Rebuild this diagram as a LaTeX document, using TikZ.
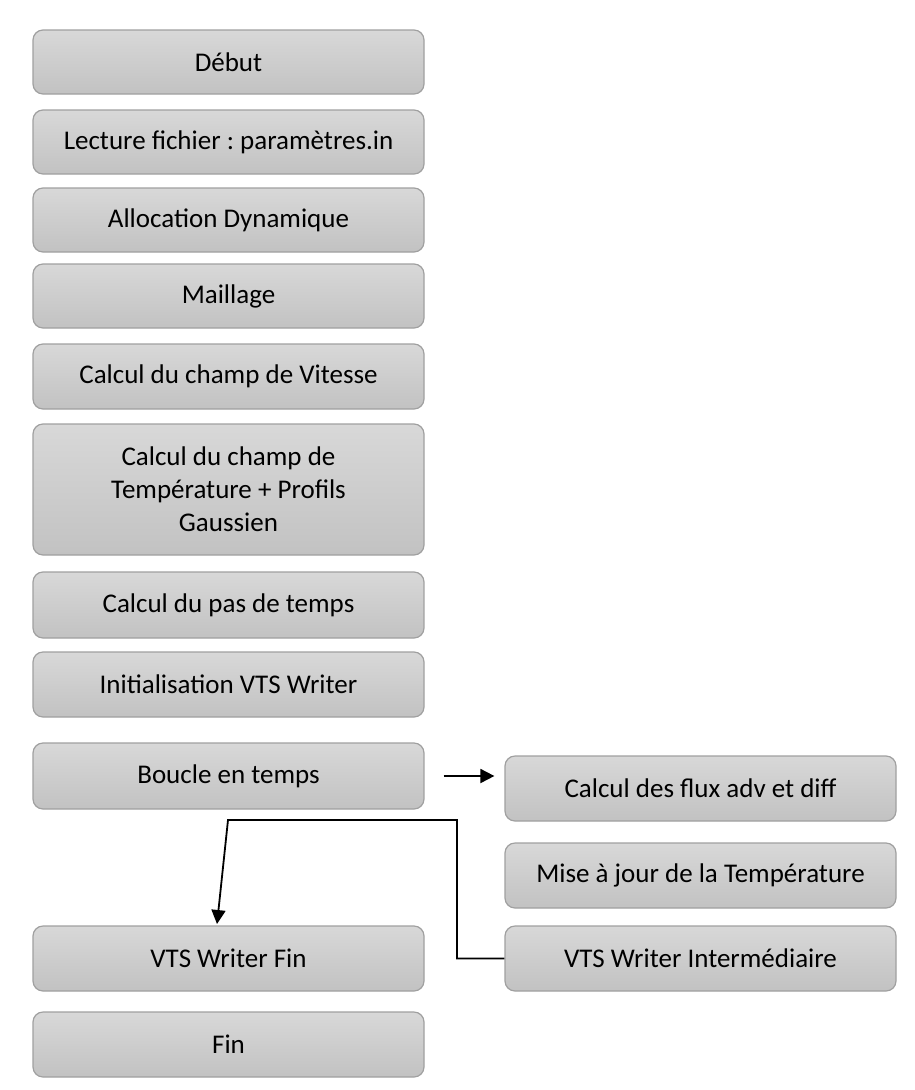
\documentclass[tikz,border=0pt]{standalone}
\usepackage{fontspec}
\setmainfont{Carlito}
\frenchspacing
\usetikzlibrary{arrows.meta}
\definecolor{boxtop}{RGB}{216,216,216}
\definecolor{boxbot}{RGB}{194,194,194}
\definecolor{boxline}{RGB}{160,160,160}
\tikzset{
  stepbox/.style={draw=boxline, line width=1.2pt, rounded corners=10pt,
    top color=boxtop, bottom color=boxbot, minimum width=391pt,
    align=center, font=\fontsize{27}{33}\selectfont, inner sep=0pt},
  conn/.style={line width=1.8pt, -{Triangle[length=14pt,width=14pt]}}
}
\begin{document}
\begin{tikzpicture}[x=1pt,y=-1pt]
\useasboundingbox (0,0) rectangle (914,1090);
\newcommand{\lbox}[4]{\node[stepbox, minimum height=#3pt] (#1) at (228.5,#2) {#4};}
\newcommand{\rbox}[4]{\node[stepbox, minimum height=#3pt] (#1) at (700.5,#2) {#4};}
\lbox{debut}{62}{64}{Début}
\lbox{lect}{142}{64}{Lecture fichier : paramètres.in}
\lbox{alloc}{220}{64}{Allocation Dynamique}
\lbox{maill}{296}{64}{Maillage}
\lbox{vit}{376.5}{65}{Calcul du champ de Vitesse}
\lbox{temp}{489.5}{131}{Calcul du champ de\\Température + Profils\\Gaussien}
\lbox{pas}{605}{66}{Calcul du pas de temps}
\lbox{init}{684.5}{65}{Initialisation VTS Writer}
\lbox{boucle}{776}{66}{Boucle en temps}
\lbox{vtsfin}{958.5}{65}{VTS Writer Fin}
\lbox{fin}{1044.5}{65}{Fin}
\rbox{flux}{788.5}{65}{Calcul des flux adv et diff}
\rbox{maj}{875.5}{65}{Mise à jour de la Température}
\rbox{vtsint}{958.5}{65}{VTS Writer Intermédiaire}
\coordinate (a1) at ([xshift=19pt]boucle.east);
\coordinate (a2) at ([xshift=-10pt]flux.west |- boucle.east);
\draw[conn] (a1) -- (a2);
\coordinate (c1) at (457,958.5);
\coordinate (c2) at (457,820);
\coordinate (c3) at (228,820);
\coordinate (c4) at (217,924);
\draw[conn] (vtsint.west) -- (c1) -- (c2) -- (c3) -- (c4);
\end{tikzpicture}
\end{document}
